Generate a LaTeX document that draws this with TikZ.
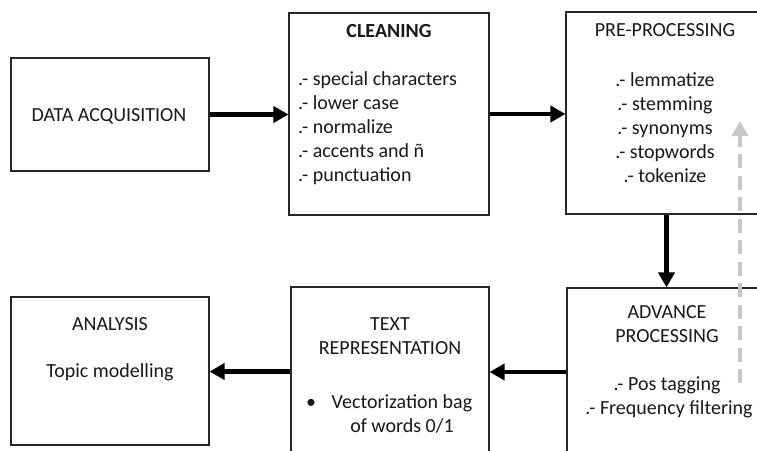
\documentclass[tikz,border=0pt]{standalone}
\usepackage{fontspec}
\setmainfont{Carlito}
\usetikzlibrary{arrows.meta}

\begin{document}
\begin{tikzpicture}[x=1pt,y=-1pt,
  box/.style={draw=black!85,line width=1.1pt,fill=white,inner sep=0pt,
              minimum width=#1},
  lbl/.style={inner sep=0pt,anchor=base,text=black!90,
              font=\fontsize{20}{24}\selectfont},
  flow/.style={line width=4.5pt,-{Triangle[length=15pt,width=16pt]}},
  back/.style={line width=4pt,color=black!22,dash pattern=on 14pt off 7.5pt,
               -{Triangle[length=15pt,width=16pt]}}]
  \useasboundingbox (0,0) rectangle (757,450);
  \clip (0,0) rectangle (757,450);

  % stage boxes
  \node[box=198pt,minimum height=113pt] (da)    at (110,114.5) {};
  \node[box=200pt,minimum height=202pt] (clean) at (389,114)   {};
  \node[box=201pt,minimum height=202pt] (pre)   at (666.5,113) {};
  \node[box=200pt,minimum height=168pt] (adv)   at (667,372)   {};
  \node[box=198pt,minimum height=169pt] (txt)   at (390,371.5) {};
  \node[box=198pt,minimum height=148pt] (ana)   at (110,371)   {};

  % data acquisition
  \node[lbl] (daT) at (109,121) {DATA ACQUISITION};

  % cleaning
  \node[lbl,font=\fontsize{20}{24}\selectfont\bfseries] (clT) at (389,37) {CLEANING};
  \node[lbl,anchor=base west] (cl1) at (298,85)  {.- special characters};
  \node[lbl,anchor=base west] (cl2) at (298,109) {.- lower case};
  \node[lbl,anchor=base west] (cl3) at (298,133) {.- normalize};
  \node[lbl,anchor=base west] (cl4) at (298,157) {.- accents and ñ};
  \node[lbl,anchor=base west] (cl5) at (298,181) {.- punctuation};

  % pre-processing
  \node[lbl] (prT) at (665,36)  {PRE-PROCESSING};
  \node[lbl] (pr1) at (665,86)  {.- lemmatize};
  \node[lbl] (pr2) at (665,110) {.- stemming};
  \node[lbl] (pr3) at (665,134) {.- synonyms};
  \node[lbl] (pr4) at (665,158) {.- stopwords};
  \node[lbl] (pr5) at (665,182) {.- tokenize};

  % advance processing
  \node[lbl] (adT1) at (667,318) {ADVANCE};
  \node[lbl] (adT2) at (667,342) {PROCESSING};
  \node[lbl] (ad1)  at (667,390) {.- Pos tagging};
  \node[lbl] (ad2)  at (669,414) {.- Frequency filtering};

  % text representation
  \node[lbl] (txT1) at (390,330) {TEXT};
  \node[lbl] (txT2) at (390,354) {REPRESENTATION};
  \node[lbl] (txB)  at (311,408) {\textbullet};
  \node[lbl] (tx1)  at (402,408) {Vectorization bag};
  \node[lbl] (tx2)  at (402,432) {of words 0/1};

  % analysis
  \node[lbl] (anT) at (110,330) {ANALYSIS};
  \node[lbl] (an1) at (110,377) {Topic modelling};

  % main flow
  \draw[flow] (da.east) -- (da.east -| clean.west);
  \draw[flow] (clean.east) -- (clean.east -| pre.west);
  \draw[flow] (pre.south) -- (pre.south |- adv.north);
  \draw[flow] (adv.west) -- (adv.west -| txt.east);
  \draw[flow] (txt.west) -- (txt.west -| ana.east);

  % feedback from advance processing to pre-processing
  \coordinate (fbS) at (740,383);
  \coordinate (fbE) at (740,121);
  \draw[back] (fbS) -- (fbE);
\end{tikzpicture}
\end{document}
